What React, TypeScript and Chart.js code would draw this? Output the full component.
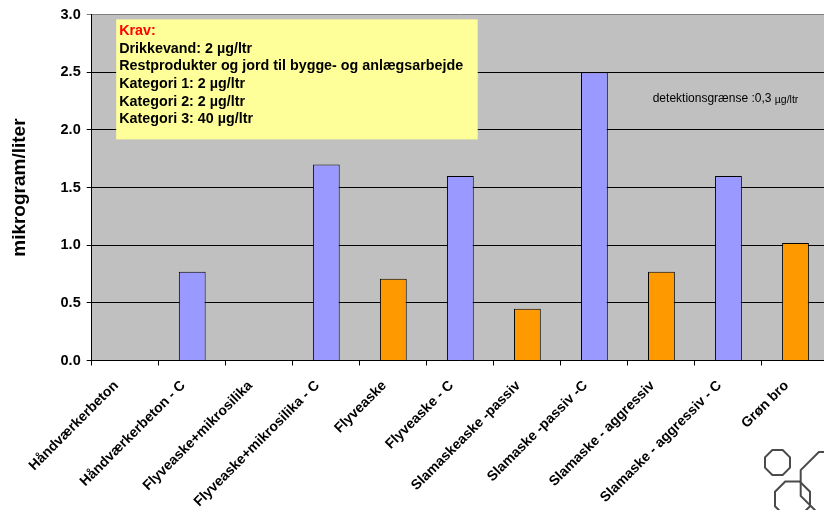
import React, { useEffect, useRef } from "react";
import { Chart, registerables } from "chart.js";

Chart.register(...registerables);

const categories = [
  "Håndværkerbeton",
  "Håndværkerbeton - C",
  "Flyveaske+mikrosilika",
  "Flyveaske+mikrosilika - C",
  "Flyveaske",
  "Flyveaske - C",
  "Slamaskeaske -passiv",
  "Slamaske -passiv -C",
  "Slamaske - aggressiv",
  "Slamaske - aggressiv - C",
  "Grøn bro",
];
const values: (number | null)[] = [null, 0.77, null, 1.7, 0.71, 1.6, 0.45, 2.5, 0.77, 1.6, 1.02];
const isC = [false, true, false, true, false, true, false, true, false, true, false];
const yTicks = [0, 0.5, 1, 1.5, 2, 2.5, 3];
const boxTitle = "Krav:";
const boxLines = [
  "Drikkevand: 2 µg/ltr",
  "Restprodukter og jord til bygge- og anlægsarbejde",
  "Kategori 1: 2 µg/ltr",
  "Kategori 2: 2 µg/ltr",
  "Kategori 3: 40 µg/ltr",
];
const detectText = "detektionsgrænse :0,3 ";
const detectUnit = "µg/ltr";
const yTitle = "mikrogram/liter";

const FONT = "'Liberation Sans', Arial, sans-serif";
const BLUE = "#9999FF";
const ORANGE = "#FF9900";

function octagon(ctx: CanvasRenderingContext2D, cx: number, cy: number, w: number) {
  const h = w / 2;
  const s = w * 0.2071;
  const pts = [
    [-s, -h], [s, -h], [h, -s], [h, s], [s, h], [-s, h], [-h, s], [-h, -s],
  ];
  ctx.beginPath();
  pts.forEach(([x, y], i) => (i ? ctx.lineTo(cx + x, cy + y) : ctx.moveTo(cx + x, cy + y)));
  ctx.closePath();
  ctx.stroke();
}

const decoPlugin = {
  id: "deco",
  beforeDraw(chart: any) {
    const { ctx, chartArea: a } = chart;
    ctx.save();
    ctx.fillStyle = "#C0C0C0";
    ctx.fillRect(a.left, a.top, a.right - a.left, a.bottom - a.top);
    ctx.restore();
  },
  afterDraw(chart: any) {
    const { ctx, chartArea: a } = chart;
    ctx.save();
    // requirement box
    const bx = a.left + 24.5;
    const by = a.top + 4.7;
    ctx.fillStyle = "#FFFF99";
    ctx.fillRect(bx, by, 361.5, 120);
    ctx.font = `bold 14.3px ${FONT}`;
    ctx.textBaseline = "middle";
    ctx.textAlign = "left";
    ctx.fillStyle = "#FF0000";
    ctx.fillText(boxTitle, bx + 3, by + 11.5);
    ctx.fillStyle = "#000000";
    boxLines.forEach((t, i) => ctx.fillText(t, bx + 3, by + 11.5 + (i + 1) * 17.7));
    // detection text
    ctx.fillStyle = "#000000";
    ctx.font = `12px ${FONT}`;
    const tx = a.left + 561;
    const ty = a.top + 84;
    ctx.fillText(detectText, tx, ty);
    const w = ctx.measureText(detectText).width;
    ctx.font = `10.5px ${FONT}`;
    ctx.fillText(detectUnit, tx + w, ty + 1);
    // logo
    ctx.strokeStyle = "#4a4a4a";
    ctx.lineWidth = 2;
    octagon(ctx, 777.5, 462.5, 25);
    octagon(ctx, 792.5, 499, 35);
    octagon(ctx, 831.7, 483, 62);
    ctx.restore();
  },
};

export default function App() {
  const ref = useRef<HTMLCanvasElement>(null);
  useEffect(() => {
    if (!ref.current) return;
    const chart = new Chart(ref.current, {
      type: "bar",
      data: {
        labels: categories,
        datasets: [
          {
            data: values,
            backgroundColor: isC.map((c) => (c ? BLUE : ORANGE)),
            borderColor: "#000000",
            borderWidth: 1,
            barPercentage: 0.4,
            categoryPercentage: 1,
          },
        ],
      },
      options: {
        responsive: false,
        animation: false,
        devicePixelRatio: 1,
        layout: { padding: { left: 0, right: 11, top: 12, bottom: 0 } },
        plugins: { legend: { display: false }, tooltip: { enabled: false } },
        scales: {
          x: {
            offset: true,
            grid: {
              offset: true,
              drawOnChartArea: false,
              drawTicks: true,
              tickLength: 5,
              color: "#000000",
            },
            border: { color: "#000000", width: 1 },
            ticks: {
              autoSkip: false,
              maxRotation: 45,
              minRotation: 45,
              color: "#000000",
              padding: 12,
              labelOffset: -9,
              font: { family: FONT, size: 14, weight: "bold" },
            },
            afterFit: (s: any) => {
              s.height = 149.5;
            },
          },
          y: {
            min: 0,
            max: 3,
            afterBuildTicks: (s: any) => {
              s.ticks = yTicks.map((v) => ({ value: v }));
            },
            grid: {
              color: (c: any) => (c.tick && c.tick.value === 3 ? "#808080" : "#000000"),
              tickLength: 5,
              drawTicks: true,
            },
            border: { color: "#000000", width: 1 },
            ticks: {
              color: "#000000",
              padding: 6,
              callback: (v: any) => Number(v).toFixed(1),
              font: { family: FONT, size: 14.5, weight: "bold" },
            },
            title: {
              display: true,
              text: yTitle,
              color: "#000000",
              padding: { top: 8.5, bottom: 0 },
              font: { family: FONT, size: 19, weight: "bold" },
            },
            afterFit: (s: any) => {
              s.width = 91.7;
            },
          },
        },
      },
      plugins: [decoPlugin],
    });
    return () => chart.destroy();
  }, []);
  return (
    <div
      style={{
        position: "fixed",
        left: 0,
        top: 0,
        width: 824,
        height: 510,
        overflow: "hidden",
        background: "#ffffff",
      }}
    >
      <canvas ref={ref} width={840} height={510} style={{ width: 840, height: 510, display: "block" }} />
    </div>
  );
}
